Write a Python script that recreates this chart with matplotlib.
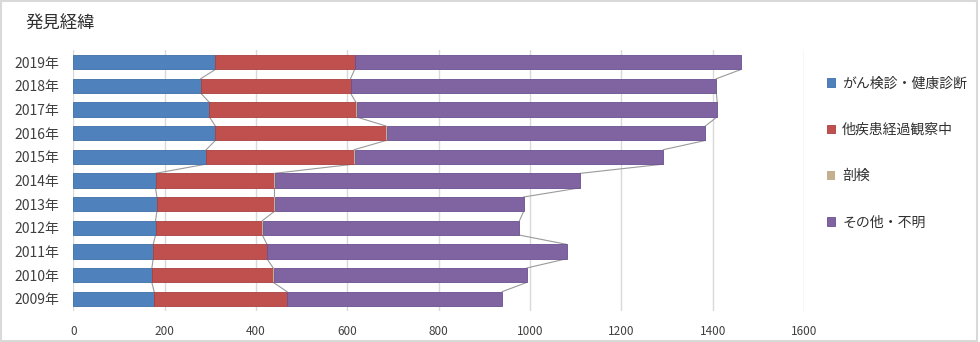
import numpy as np
from matplotlib import pyplot as plt
from matplotlib.patches import Rectangle

plt.rcParams['font.family'] = ['Noto Sans CJK JP', 'DejaVu Sans']

years = ['2009年', '2010年', '2011年', '2012年', '2013年', '2014年',
         '2015年', '2016年', '2017年', '2018年', '2019年']
screening = [177, 172, 175, 180, 183, 180, 291, 311, 298, 279, 311]
followup = [291, 266, 249, 234, 257, 260, 324, 374, 321, 328, 305]
autopsy = [1, 1, 1, 1, 1, 1, 1, 1, 2, 1, 1]
other = [470, 554, 655, 562, 545, 669, 676, 698, 789, 800, 845]

# name, values, fill, edge, edge width
series = [
    ('がん検診・健康診断', screening, '#4f81bd', '#3e6fa8', 0.6),
    ('他疾患経過観察中', followup, '#c0504d', '#a9403d', 0.6),
    ('剖検', autopsy, '#c4b08f', '#c4b08f', 0.0),
    ('その他・不明', other, '#8064a2', '#6a5090', 0.6),
]

fig = plt.figure(figsize=(9.8, 3.42), dpi=100)
ax = fig.add_axes([0.0748, 0.0915, 0.7456, 0.761])

y = np.arange(len(years))
h = 0.61
left = np.zeros(len(years))
for name, vals, color, edge, lw in series:
    vals = np.array(vals, dtype=float)
    ax.barh(y, vals, height=h, left=left, color=color, edgecolor=edge,
            linewidth=lw, label=name, zorder=3)
    left = left + vals
    if name == '剖検':
        continue
    # series lines between neighbouring bars
    for i in range(len(years) - 1):
        ax.plot([left[i], left[i + 1]], [y[i] + h / 2, y[i + 1] - h / 2],
                color='#9a9a9a', lw=0.8, zorder=2)

ax.set_xlim(0, 1600)
ax.set_ylim(-0.5, len(years) - 0.5)
ax.set_xticks(range(0, 1601, 200))
ax.set_yticks(y)
ax.set_yticklabels(years)
ax.grid(axis='x', color='#d9d9d9', lw=1, zorder=0)
ax.set_axisbelow(True)
for s in ax.spines.values():
    s.set_visible(False)
ax.tick_params(axis='both', length=0, colors='#404040')
ax.tick_params(axis='x', pad=10, labelsize=8.5)
ax.tick_params(axis='y', pad=10, labelsize=10)

fig.text(0.026, 0.93, '発見経緯', fontsize=12.5, color='#303030', va='center')

handles, labels = ax.get_legend_handles_labels()
fig.legend(handles, labels, loc='upper left', bbox_to_anchor=(0.831, 0.813),
           frameon=False, fontsize=10, handlelength=0.6, handleheight=0.6,
           handletextpad=0.5, labelspacing=2.33, labelcolor='#303030')

fig.add_artist(Rectangle((0.001, 0.003), 0.996, 0.993, transform=fig.transFigure,
                         fill=False, edgecolor='#d9d9d9', lw=1.5))

fig.savefig('out.png', dpi=100)
